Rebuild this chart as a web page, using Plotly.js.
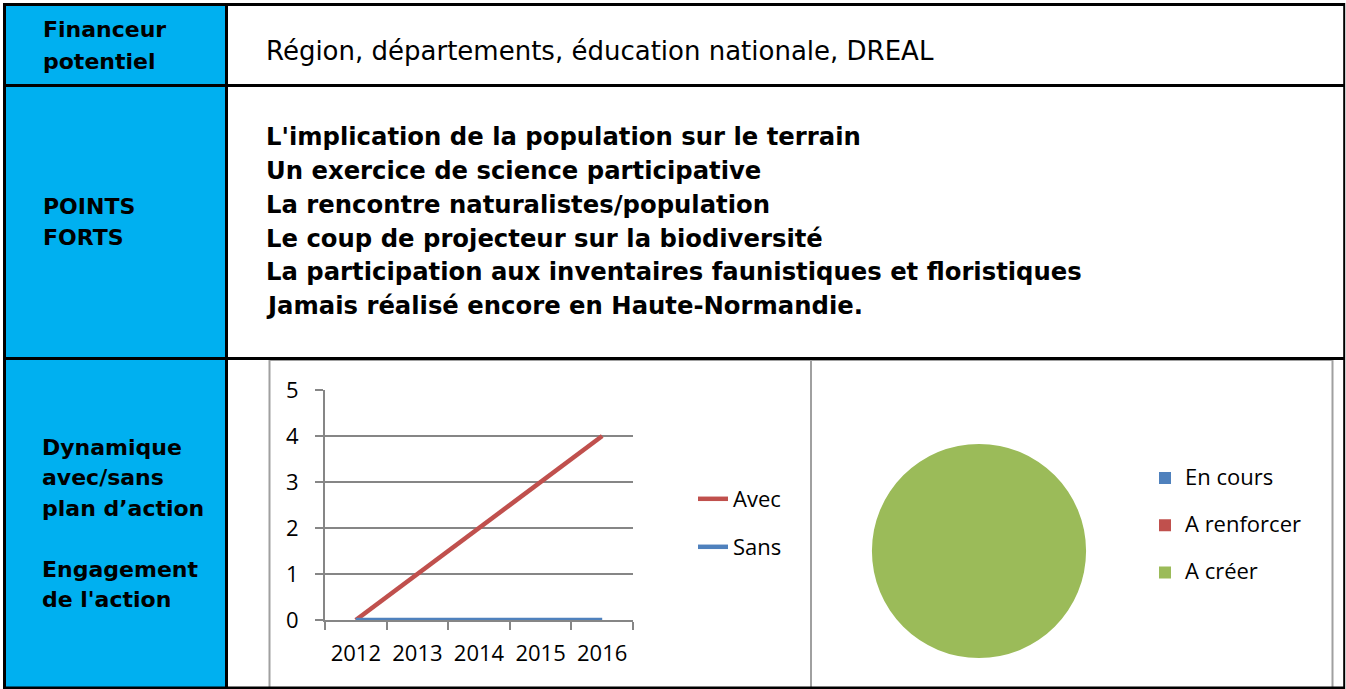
<!DOCTYPE html>
<html><head><meta charset="utf-8">
<script src="https://cdn.plot.ly/plotly-3.0.1.min.js"></script>
<style>html,body{margin:0;padding:0;background:#fff;overflow:hidden}#chart{width:1346px;height:689px}</style>
</head><body><div id="chart"></div>
<script>
// ---- data ----
var years = ['2012', '2013', '2014', '2015', '2016'];
var avecValues = [0, 1, 2, 3, 4];
var sansValues = [0, 0, 0, 0, 0];
var seriesNames = ['Avec', 'Sans'];
var yTickValues = [0, 1, 2, 3, 4, 5];
var engagementLabels = ['En cours', 'A renforcer', 'A créer'];
var engagementValues = [0, 0, 1];
var headerFinanceur = ['Financeur', 'potentiel'];
var headerPoints = ['POINTS', 'FORTS'];
var headerDynamique = ['Dynamique', 'avec/sans', 'plan d’action', '', 'Engagement', "de l'action"];
var financeurText = 'Région, départements, éducation nationale, DREAL';
var pointsForts = [
  "L'implication de la population sur le terrain",
  'Un exercice de science participative',
  'La rencontre naturalistes/population',
  'Le coup de projecteur sur la biodiversité',
  'La participation aux inventaires faunistiques et floristiques',
  'Jamais réalisé encore en Haute-Normandie.'
];

// ---- layout helpers ----
var W = 1346, H = 689;
function X(px) { return px / W; }
function Y(py) { return 1 - py / H; }

var chartFont = 'Open Sans, Lato, sans-serif';
var docFont = 'DejaVu Sans, sans-serif';
var grid = '#868686';

var annotations = [];
function addLines(lines, x, y0, step, size, weight) {
  lines.forEach(function (t, i) {
    if (!t) return;
    annotations.push({
      xref: 'paper', yref: 'paper', x: X(x), y: Y(y0 + i * step),
      xanchor: 'left', yanchor: 'middle', showarrow: false, text: t,
      font: {family: docFont, size: size, color: '#000', weight: weight}
    });
  });
}
addLines(headerFinanceur, 41, 30, 31.5, 22, 'bold');
addLines(headerPoints, 41, 207, 30.5, 22, 'bold');
addLines(headerDynamique, 40, 447, 30.5, 22, 'bold');
addLines([financeurText], 264, 51, 0, 26, 'normal');
addLines(pointsForts, 264, 137, 33.7, 24.3, 'bold');

var shapes = [
  {type: 'rect', xref: 'paper', yref: 'paper', x0: X(5), x1: X(226), y0: Y(688), y1: Y(5), fillcolor: '#00B0F0', line: {width: 0}, layer: 'below'},
  {type: 'rect', xref: 'paper', yref: 'paper', x0: X(269.5), x1: X(811), y0: Y(688), y1: Y(360), line: {color: '#A0A0A0', width: 2}, layer: 'below'},
  {type: 'rect', xref: 'paper', yref: 'paper', x0: X(811), x1: X(1332.5), y0: Y(688), y1: Y(360), line: {color: '#A0A0A0', width: 2}, layer: 'below'}
];
function hline(py, x0, x1, w) { shapes.push({type: 'line', xref: 'paper', yref: 'paper', x0: X(x0), x1: X(x1), y0: Y(py), y1: Y(py), line: {color: '#000', width: w}}); }
function vline(px, y0, y1, w) { shapes.push({type: 'line', xref: 'paper', yref: 'paper', x0: X(px), x1: X(px), y0: Y(y0), y1: Y(y1), line: {color: '#000', width: w}}); }
hline(4.5, 3, 1345, 3);
hline(85.5, 3, 1345, 3);
hline(358.5, 3, 1345, 3);
hline(688, 3, 1345, 3);
vline(4.5, 3, 689, 3);
vline(226.5, 3, 689, 3);
vline(1344.2, 3, 689, 2);

var traces = [
  {type: 'scatter', mode: 'lines', x: years, y: avecValues, name: seriesNames[0], legendgroup: 'a',
   line: {color: '#C0504D', width: 4.5}, xaxis: 'x', yaxis: 'y', legend: 'legend'},
  {type: 'scatter', mode: 'lines', x: years, y: sansValues, name: seriesNames[1], legendgroup: 'b',
   line: {color: '#4F81BD', width: 4.5}, xaxis: 'x', yaxis: 'y', legend: 'legend'},
  {type: 'pie', labels: engagementLabels.map(function (l) { return '<span style="font-size:22px">' + l + '</span><br>\u00a0'; }),
   values: engagementValues, sort: false, direction: 'clockwise', textinfo: 'none',
   marker: {colors: ['#4F81BD', '#C0504D', '#9BBB59'], line: {width: 0}},
   domain: {x: [X(872), X(1086)], y: [Y(658), Y(444)]}, legend: 'legend2'}
];

var layout = {
  width: W, height: H, margin: {l: 0, r: 0, t: 0, b: 0},
  paper_bgcolor: '#fff', plot_bgcolor: 'rgba(0,0,0,0)',
  showlegend: true, hovermode: false,
  xaxis: {domain: [X(325), X(633)], type: 'category', range: [-0.5, 4.5], tickson: 'boundaries',
    ticks: 'outside', ticklen: 8, tickwidth: 2, tickcolor: grid, showline: true, linecolor: grid, linewidth: 2,
    showgrid: false, zeroline: false, fixedrange: true, ticklabelstandoff: 13,
    tickfont: {family: chartFont, size: 22, color: '#000'}},
  yaxis: {domain: [Y(620), Y(390)], range: [0, 5], tickvals: yTickValues,
    ticks: 'outside', ticklen: 8, tickwidth: 2, tickcolor: grid, showline: true, linecolor: grid, linewidth: 2,
    showgrid: true, gridcolor: grid, gridwidth: 2, zeroline: false, fixedrange: true, ticklabelstandoff: 12,
    tickfont: {family: chartFont, size: 22, color: '#000'}},
  legend: {x: X(693), xanchor: 'left', y: Y(478), yanchor: 'top', bgcolor: 'rgba(0,0,0,0)', borderwidth: 0,
    traceorder: 'grouped', tracegroupgap: 16.4, font: {family: chartFont, size: 22, color: '#000'}},
  legend2: {x: X(1145), xanchor: 'left', y: Y(460.5), yanchor: 'top', bgcolor: 'rgba(0,0,0,0)', borderwidth: 0,
    valign: 'top', font: {family: chartFont, size: 17, color: '#000'}},
  shapes: shapes,
  annotations: annotations
};

Plotly.newPlot('chart', traces, layout, {staticPlot: true, displayModeBar: false});
</script>
</body></html>
